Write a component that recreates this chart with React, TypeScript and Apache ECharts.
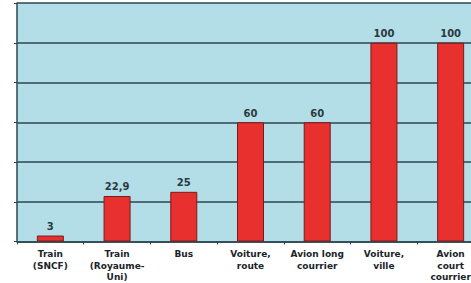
import React, { useEffect, useRef } from "react";
import * as echarts from "echarts";

const categories = [
  "Train\n(SNCF)",
  "Train\n(Royaume-\nUni)",
  "Bus",
  "Voiture,\nroute",
  "Avion long\ncourrier",
  "Voiture,\nville",
  "Avion\ncourt\ncourrier",
];
const values = [3, 22.9, 25, 60, 60, 100, 100];
const valueLabels = ["3", "22,9", "25", "60", "60", "100", "100"];

export default function App() {
  const ref = useRef<HTMLDivElement>(null);
  useEffect(() => {
    if (!ref.current) return;
    const chart = echarts.init(ref.current, undefined, { renderer: "svg" });
    const dark = "#2a4652";
    chart.setOption({
      animation: false,
      backgroundColor: "#ffffff",
      grid: {
        left: 17,
        right: 0,
        top: 3,
        bottom: 41,
        show: true,
        backgroundColor: "#b4dee7",
        borderWidth: 0,
      },
      xAxis: {
        type: "category",
        data: categories,
        axisLine: { show: true, lineStyle: { color: dark, width: 1.5 } },
        axisTick: { show: true, length: 3, lineStyle: { color: dark } },
        axisLabel: {
          interval: 0,
          margin: 7,
          fontFamily: "DejaVu Sans",
          fontWeight: "bold",
          fontSize: 9,
          lineHeight: 11.5,
          color: "#1a2428",
        },
      },
      yAxis: {
        type: "value",
        min: 0,
        max: 120,
        interval: 20,
        axisLine: { show: true, lineStyle: { color: dark, width: 1.5 } },
        axisTick: { show: true, length: 3, lineStyle: { color: dark } },
        axisLabel: { show: false },
        splitLine: { show: true, lineStyle: { color: dark, width: 1.5 } },
      },
      series: [
        {
          type: "bar",
          data: values,
          barWidth: 27,
          itemStyle: { color: "#e8302e", borderColor: "#7a1a18", borderWidth: 1 },
          label: {
            show: true,
            position: "top",
            distance: 4,
            fontFamily: "DejaVu Sans",
            fontWeight: "bold",
            fontSize: 10,
            color: "#2a3a40",
            formatter: (p: any) => valueLabels[p.dataIndex],
          },
        },
      ],
    });
    return () => chart.dispose();
  }, []);
  return (
    <div
      style={{
        position: "fixed",
        left: 0,
        top: 0,
        width: 471,
        height: 283,
        overflow: "hidden",
        background: "#ffffff",
      }}
    >
      <div ref={ref} style={{ width: 484, height: 283 }} />
    </div>
  );
}
